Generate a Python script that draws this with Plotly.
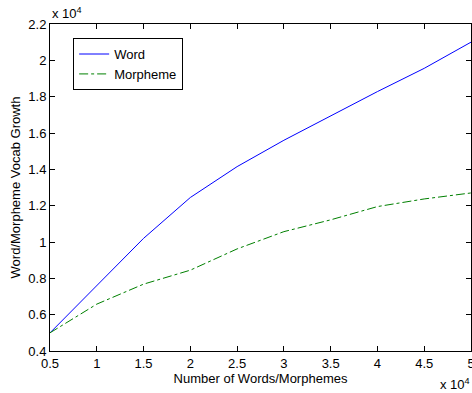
import plotly.graph_objects as go

# values in units of 10^4
n_tokens = [0.5, 1.0, 1.5, 2.0, 2.5, 3.0, 3.5, 4.0, 4.5, 5.0]
word_vocab = [0.50, 0.76, 1.02, 1.245, 1.415, 1.56, 1.695, 1.828, 1.956, 2.10]
morph_vocab = [0.50, 0.658, 0.768, 0.845, 0.962, 1.057, 1.122, 1.195, 1.237, 1.27]

x_ticks = [0.5, 1, 1.5, 2, 2.5, 3, 3.5, 4, 4.5, 5]
x_ticktext = ["0.5", "1", "1.5", "2", "2.5", "3", "3.5", "4", "4.5", "5"]
y_ticks = [0.4, 0.6, 0.8, 1.0, 1.2, 1.4, 1.6, 1.8, 2.0, 2.2]
y_ticktext = ["0.4", "0.6", "0.8", "1", "1.2", "1.4", "1.6", "1.8", "2", "2.2"]

FONT = "Liberation Sans, Arial, Helvetica, sans-serif"
FS = 13

fig = go.Figure()
fig.add_trace(go.Scatter(x=n_tokens, y=word_vocab, mode="lines", name="Word",
                         line=dict(color="#0000ff", width=1)))
fig.add_trace(go.Scatter(x=n_tokens, y=morph_vocab, mode="lines", name="Morpheme",
                         line=dict(color="#008000", width=1, dash="dashdot")))

axis_common = dict(showline=True, linecolor="black", linewidth=1, mirror="ticks",
                   ticks="inside", ticklen=5, tickcolor="black", showgrid=False,
                   zeroline=False, automargin=False, ticklabeloverflow="allow",
                   tickfont=dict(family=FONT, size=FS, color="black"))

fig.update_layout(
    width=472, height=393,
    margin=dict(l=50, r=1, t=24, b=42),
    paper_bgcolor="white", plot_bgcolor="white",
    font=dict(family=FONT, size=FS, color="black"),
    xaxis=dict(range=[0.5, 5], tickvals=x_ticks, ticktext=x_ticktext,
               title=dict(text="Number of Words/Morphemes", standoff=2,
                          font=dict(family=FONT, size=FS)),
               **axis_common),
    yaxis=dict(range=[0.4, 2.2], tickvals=y_ticks, ticktext=y_ticktext,
               title=dict(text="Word/Morpheme Vocab Growth", standoff=4,
                          font=dict(family=FONT, size=FS)),
               **axis_common),
    legend=dict(x=0.055, y=0.957, xanchor="left", yanchor="top",
                bgcolor="white", bordercolor="black", borderwidth=1,
                font=dict(family=FONT, size=FS), tracegroupgap=0),
    showlegend=True,
    annotations=[
        dict(text="x 10<sup>4</sup>", xref="paper", yref="paper", x=0.0, y=1.0,
             xanchor="left", yanchor="bottom", showarrow=False, yshift=1,
             font=dict(family=FONT, size=FS)),
        dict(text="x 10<sup>4</sup>", xref="paper", yref="paper", x=1.0, y=0.0,
             xanchor="right", yanchor="top", showarrow=False, yshift=-23, xshift=1,
             font=dict(family=FONT, size=FS)),
    ],
)

fig.write_html("out.html", config={"displayModeBar": False},
               post_script="document.body.style.margin='0';document.body.style.overflow='hidden';")
